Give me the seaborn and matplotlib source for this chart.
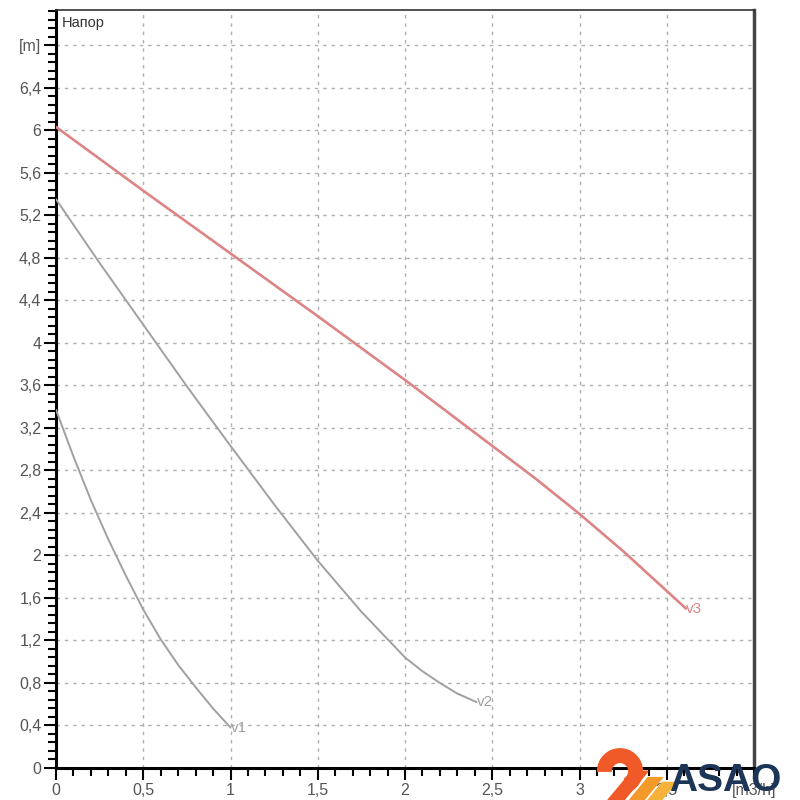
import numpy as np
import pandas as pd
import matplotlib
matplotlib.use("Agg")
import matplotlib.pyplot as plt
import matplotlib.ticker as mticker
from matplotlib.patches import Polygon, Wedge
import seaborn as sns

# ---- data ----
v1_q = [0.0, 0.1, 0.2, 0.3, 0.4, 0.5, 0.6, 0.7, 0.8, 0.9, 1.0]
v1_h = [3.37, 2.93, 2.52, 2.15, 1.81, 1.49, 1.21, 0.97, 0.76, 0.56, 0.38]
v2_q = [0.0, 0.25, 0.5, 0.75, 1.0, 1.25, 1.5, 1.75, 2.0, 2.1, 2.2, 2.3, 2.41]
v2_h = [5.35, 4.75, 4.17, 3.59, 3.03, 2.48, 1.95, 1.47, 1.04, 0.91, 0.8, 0.7, 0.62]
v3_q = [0.0, 0.5, 1.0, 1.5, 2.0, 2.5, 2.75, 3.0, 3.25, 3.61]
v3_h = [6.03, 5.43, 4.84, 4.25, 3.65, 3.03, 2.72, 2.39, 2.04, 1.5]
curve_names = ["v1", "v2", "v3"]

x_ticks = [0, 0.5, 1, 1.5, 2, 2.5, 3, 3.5, 4]
x_labels = ["0", "0,5", "1", "1,5", "2", "2,5", "3", "3,5", "[m3/h]"]
y_ticks = [0, 0.4, 0.8, 1.2, 1.6, 2.0, 2.4, 2.8, 3.2, 3.6, 4.0, 4.4, 4.8, 5.2, 5.6, 6.0, 6.4, 6.8]
y_labels = ["0", "0,4", "0,8", "1,2", "1,6", "2", "2,4", "2,8", "3,2", "3,6", "4", "4,4",
            "4,8", "5,2", "5,6", "6", "6,4", "[m]"]

df = pd.concat([
    pd.DataFrame({"q": v1_q, "h": v1_h, "curve": "v1"}),
    pd.DataFrame({"q": v2_q, "h": v2_h, "curve": "v2"}),
    pd.DataFrame({"q": v3_q, "h": v3_h, "curve": "v3"}),
])

sns.set_style("white")
plt.rcParams["font.family"] = ["Liberation Sans", "DejaVu Sans"]

fig = plt.figure(figsize=(8, 8), dpi=100)
ax = fig.add_axes([0.07, 0.04, 0.8725, 0.9475])

colors = {"v1": "#a0a0a0", "v2": "#a0a0a0", "v3": "#dd8484"}
widths = {"v1": 1.4, "v2": 1.4, "v3": 1.9}
for name in curve_names:
    sub = df[df["curve"] == name]
    sns.lineplot(data=sub, x="q", y="h", ax=ax, color=colors[name],
                 linewidth=widths[name], sort=False, estimator=None, zorder=3)
    ax.text(sub["q"].iloc[-1], sub["h"].iloc[-1], name, color=colors[name],
            fontsize=11, ha="left", va="center", zorder=4)

ax.set_xlim(0, 4.0)
ax.set_ylim(0, 7.13)
ax.set_xticks(x_ticks)
ax.set_xticklabels(x_labels)
ax.set_yticks(y_ticks)
ax.set_yticklabels(y_labels)
ax.xaxis.set_minor_locator(mticker.MultipleLocator(0.1))
ax.yaxis.set_minor_locator(mticker.MultipleLocator(0.08))
ax.set_xlabel("")
ax.set_ylabel("")

ax.grid(True, which="major", color="#b0b0b0", linestyle=(0, (2.5, 3.5)), linewidth=1.0)
ax.tick_params(which="major", direction="out", length=8.5, width=1.5, color="black",
               labelsize=11.5, labelcolor="#555555", left=True, bottom=True, pad=2)
ax.tick_params(which="minor", direction="out", length=5.5, width=1.5, color="black",
               left=True, bottom=True)

for side in ["left", "bottom"]:
    ax.spines[side].set_color("black")
    ax.spines[side].set_linewidth(2.2)
ax.spines["top"].set_color("#333333")
ax.spines["top"].set_linewidth(1.2)
ax.spines["right"].set_color("#444444")
ax.spines["right"].set_linewidth(2.5)

ax.text(0.008, 0.992, "Напор", transform=ax.transAxes, ha="left", va="top",
        fontsize=10.5, color="#333333")

# ---- watermark logo (bottom right) ----
orange = "#f05a28"
fig.patches.append(Wedge((0.775, 0.036), 0.028, -60, 180, width=0.017,
                         transform=fig.transFigure, color=orange, zorder=10))
fig.patches.append(Polygon([[0.76, 0.0], [0.78, 0.0], [0.81, 0.036], [0.79, 0.036]],
                           closed=True, transform=fig.transFigure, color=orange, zorder=10))
fig.patches.append(Polygon([[0.787, 0.0], [0.805, 0.0], [0.828, 0.028], [0.810, 0.028]],
                           closed=True, transform=fig.transFigure, color="#f39a2a", zorder=10))
fig.patches.append(Polygon([[0.81, 0.0], [0.827, 0.0], [0.845, 0.022], [0.828, 0.022]],
                           closed=True, transform=fig.transFigure, color="#f7b23b", zorder=10))
fig.text(0.836, 0.001, "ASAO", fontsize=28, fontweight="bold", color="#1d3557",
         ha="left", va="bottom", zorder=11)

fig.savefig("out.png", dpi=100, facecolor="white")
